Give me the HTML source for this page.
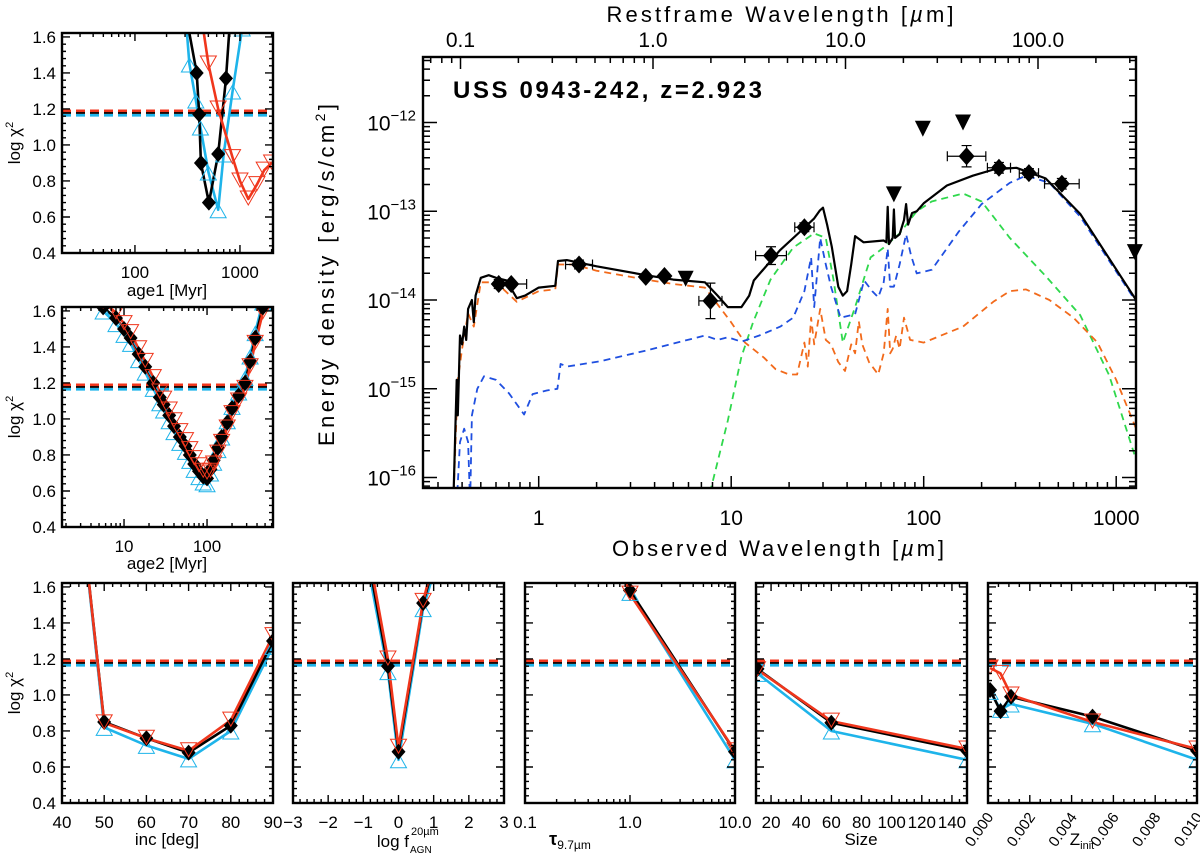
<!DOCTYPE html>
<html><head><meta charset="utf-8"><title>SED fit USS 0943-242</title>
<style>
html,body{margin:0;padding:0;background:#fff;}
svg{display:block;font-family:"Liberation Sans",sans-serif;}
</style></head>
<body>
<svg id="chart" width="1200" height="856" viewBox="0 0 1200 856" xmlns="http://www.w3.org/2000/svg">
<rect x="0" y="0" width="1200" height="856" fill="#fff"/>
</svg>
<script>
// ===== Main SED data (observed wavelength in micron, log10 energy density) =====
const photWl   = [0.62,0.72,1.62,3.6,4.5,7.8,16.1,24,167,246,352,522];
const photLogF = [-13.82,-13.82,-13.6,-13.74,-13.73,-14.01,-13.5,-13.18,-12.38,-12.51,-12.57,-12.69];
const photXErr = [0,0.08,0.07,0,0,0.06,0.08,0.05,0.1,0.06,0.05,0.09];
const photYErr = [0.05,0.03,0.05,0.03,0.03,0.2,0.1,0.05,0.12,0.06,0.05,0.06];
const limWl    = [5.8,70,99,160,1250];
const limLogF  = [-13.76,-12.81,-12.07,-12.0,-13.46];

const totalWl  = [0.36,0.375,0.38,0.39,0.40,0.41,0.42,0.43,0.45,0.46,0.47,0.50,0.55,0.6,0.68,0.77,0.85,1.0,1.22,1.26,1.4,2.0,3.6,5.0,7.3,8.5,9.6,11.3,12.4,13.1,17.9,23.6,27,28.9,30,31.5,33.3,36,38,40,42,44,48.7,62,64,65,66,69,70,71,75,79,81,83,87,92,100,132,180,231,303,430,650,1268];
const totalLogF= [-16.3,-14.9,-15.3,-14.4,-14.5,-14.3,-14.45,-14.1,-14.0,-14.25,-13.95,-13.75,-13.72,-13.75,-13.78,-13.98,-13.95,-13.86,-13.84,-13.56,-13.55,-13.62,-13.72,-13.77,-13.8,-13.95,-14.08,-14.08,-13.95,-13.78,-13.44,-13.2,-13.08,-12.99,-12.96,-13.15,-13.4,-13.85,-13.95,-13.9,-13.6,-13.28,-13.35,-13.33,-13.35,-12.95,-13.37,-13.3,-12.98,-13.3,-13.26,-13.1,-12.92,-13.15,-13.02,-13.0,-12.91,-12.71,-12.6,-12.53,-12.51,-12.63,-13.03,-14.0];

const starWl   = [0.36,0.38,0.40,0.43,0.46,0.5,0.6,0.77,1.0,1.22,1.26,1.5,2.0,3.6,5.0,7.3,8.5,9.9,11.8,14.8,17,20,22,24,25,26,27,29,31,33,36,39,42,44,46,48,52,58,62,65,67,69,72,75,79,85,100,160,230,280,340,450,600,800,1000,1268];
const starLogF = [-16.3,-14.9,-14.55,-14.15,-14.3,-13.8,-13.8,-14.02,-13.9,-13.88,-13.6,-13.6,-13.67,-13.77,-13.82,-13.86,-14.05,-14.24,-14.48,-14.65,-14.78,-14.84,-14.84,-14.48,-14.75,-14.2,-14.5,-14.1,-14.45,-14.5,-14.7,-14.8,-14.5,-14.6,-14.24,-14.5,-14.7,-14.84,-14.6,-14.1,-14.6,-14.55,-14.4,-14.55,-14.2,-14.45,-14.48,-14.3,-14.02,-13.9,-13.88,-14.0,-14.2,-14.48,-14.9,-15.45];

const agnWl    = [0.375,0.39,0.41,0.43,0.44,0.45,0.48,0.52,0.6,0.7,0.84,0.93,1.1,1.25,1.3,1.4,2.1,3.6,7.3,8.5,9.6,11.3,14,18,21,24,26,27,29,31,33,37,44,49,54,58,62,65,67,70,75,81,86,92,110,152,200,280,340,450,650,1268];
const agnLogF  = [-16.3,-15.6,-15.45,-15.6,-16.3,-15.3,-15.0,-14.86,-14.9,-15.05,-15.29,-15.06,-15.02,-15.0,-14.72,-14.75,-14.69,-14.57,-14.4,-14.45,-14.42,-14.47,-14.4,-14.3,-14.2,-13.9,-13.52,-14.08,-13.3,-13.6,-13.85,-14.2,-14.16,-13.78,-13.9,-13.97,-13.8,-13.42,-13.85,-13.85,-13.6,-13.26,-13.5,-13.7,-13.66,-13.23,-12.92,-12.68,-12.6,-12.68,-13.06,-14.02];

const dustWl   = [7.5,9.6,11.3,13,16,21,27,31,34,38,44,53,62,75,92,110,160,200,280,430,650,920,1268];
const dustLogF = [-16.3,-15.36,-14.64,-14.25,-13.77,-13.41,-13.25,-13.3,-13.77,-14.48,-14.08,-13.52,-13.41,-13.25,-13.0,-12.89,-12.8,-12.89,-13.3,-13.73,-14.17,-14.85,-15.8];

const redshift = 2.923;
const yDecades = [-12,-13,-14,-15,-16];
const obsTickLabels = ["1","10","100","1000"];
const obsTickValues = [1,10,100,1000];
const restTickLabels = ["0.1","1.0","10.0","100.0"];
const restTickValues = [0.1,1,10,100];

// ===== chi2 panels data (log chi2) =====
const chiLevelBlack = 1.18, chiLevelRed = 1.19, chiLevelBlue = 1.165;

const age1Black = [300,387,409,425,506,620,736,850];
const age1BlackChi = [1.75,1.40,1.17,0.90,0.68,0.95,1.37,1.9];
const age1Blue = [300,330,380,420,500,620,700,850,1050];
const age1BlueChi = [1.75,1.45,1.25,1.1,0.85,0.64,0.95,1.3,1.65];
const age1Red = [420,500,620,850,1000,1200,1450,1700,2000];
const age1RedChi = [1.75,1.45,1.2,0.93,0.8,0.70,0.78,0.86,0.9];

const age2Grid = [5.6,8,10,12,15,18,22.5,27,30,35,40,47,55,62,70,80,90,100,110,120,135,150,175,200,240,286,330,380,470];
const age2BlackChi = [1.62,1.56,1.5,1.45,1.36,1.29,1.2,1.12,1.08,1.02,0.96,0.9,0.85,0.8,0.75,0.71,0.68,0.67,0.72,0.77,0.84,0.9,0.98,1.06,1.13,1.2,1.32,1.45,1.62];
const age2BlueChi  = [1.6,1.53,1.47,1.42,1.33,1.26,1.17,1.09,1.05,0.99,0.93,0.87,0.82,0.77,0.72,0.68,0.65,0.64,0.7,0.76,0.83,0.9,0.99,1.07,1.15,1.23,1.35,1.48,1.65];
const age2RedChi   = [1.65,1.59,1.53,1.48,1.39,1.32,1.23,1.15,1.11,1.05,0.99,0.93,0.88,0.83,0.78,0.74,0.71,0.7,0.71,0.75,0.81,0.87,0.95,1.03,1.1,1.17,1.29,1.42,1.59];

const incVals = [40,50,60,70,80,90];
const incBlackChi = [3.0,0.85,0.76,0.68,0.83,1.30];
const incRedChi   = [3.0,0.845,0.76,0.69,0.86,1.33];
const incBlueChi  = [3.0,0.82,0.72,0.645,0.80,1.27];

const fagnVals = [-1,-0.3,0,0.7,1];
const fagnBlackChi = [1.91,1.16,0.685,1.51,1.72];
const fagnRedChi   = [1.95,1.2,0.71,1.52,1.75];
const fagnBlueChi  = [1.85,1.13,0.64,1.48,1.68];

const tauVals = [0.3,1.0,10];
const tauBlackChi = [2.5,1.58,0.685];
const tauRedChi   = [2.5,1.56,0.69];
const tauBlueChi  = [2.5,1.57,0.64];

const sizeVals = [11,60,150];
const sizeBlackChi = [1.145,0.846,0.69];
const sizeRedChi   = [1.14,0.855,0.70];
const sizeBlueChi  = [1.12,0.80,0.64];

const zVals = [0.0001,0.0006,0.0011,0.005,0.0100];
const zBlackChi = [1.028,0.91,0.99,0.88,0.69];
const zRedChi   = [1.15,1.12,1.00,0.85,0.70];
const zBlueChi  = [1.02,0.92,0.95,0.84,0.64];

// ===== drawing helpers =====
const NS = 'http://www.w3.org/2000/svg';
const svg = document.getElementById('chart');
function el(tag, attrs, parent){
  const e = document.createElementNS(NS, tag);
  for (const k in attrs) e.setAttribute(k, attrs[k]);
  (parent || svg).appendChild(e);
  return e;
}
function txt(parent, x, y, s, size, anchor, extra){
  const t = el('text', Object.assign({x:x, y:y, 'font-size':size, 'text-anchor':anchor||'middle', fill:'#000'}, extra||{}), parent);
  t.textContent = s;
  return t;
}
const RED = '#f0361c', BLUE = '#1eb4ea', BLK = '#000';

// ----- Main SED -----
const MX0 = 423, MX1 = 1136, MY0 = 57, MY1 = 488;
function mx(l){ return 538.7 + 192.5*Math.log10(l); }
function my(lf){ return 122.5 - 88.75*(lf + 12); }

const mainG = el('g', {});


const defs = el('defs', {});
const cpMain = el('clipPath', {id:'clip-main'}, defs);
el('rect', {x:MX0, y:MY0, width:MX1-MX0, height:MY1-MY0}, cpMain);

function curve(parent, xs, ys, fx, fy, color, w, dash, name){
  const d = xs.map((v,i)=> (i? 'L':'M') + fx(v).toFixed(1) + ',' + fy(ys[i]).toFixed(1)).join(' ');
  const p = el('path', {d:d, fill:'none', stroke:color, 'stroke-width':w, 'stroke-linejoin':'round'}, parent);
  if (dash) p.setAttribute('stroke-dasharray', dash);
  
  
  return p;
}
const mainPlot = el('g', {'clip-path':'url(#clip-main)'}, mainG);


curve(mainPlot, dustWl, dustLogF, mx, my, '#2fd84c', 1.8, '7,5', 'starburst-dust-curve');
curve(mainPlot, starWl, starLogF, mx, my, '#f26a1b', 1.8, '7,5', 'stellar-curve');
curve(mainPlot, agnWl, agnLogF, mx, my, '#1f4fe0', 1.8, '7,5', 'agn-torus-curve');
curve(mainPlot, totalWl, totalLogF, mx, my, '#000', 2.2, null, 'total-model-curve');

// photometry
photWl.forEach((l,i)=>{
  const g = el('g', {}, mainPlot);
  
  
  const x = mx(l), y = my(photLogF[i]);
  if (photYErr[i] > 0){
    const y1 = my(photLogF[i]+photYErr[i]), y2 = my(photLogF[i]-photYErr[i]);
    el('path', {d:`M${x},${y1} V${y2} M${x-5},${y1} H${x+5} M${x-5},${y2} H${x+5}`, stroke:'#000', 'stroke-width':1.2, fill:'none'}, g);
  }
  if (photXErr[i] > 0){
    const x1 = mx(l*Math.pow(10,-photXErr[i])), x2 = mx(l*Math.pow(10,photXErr[i]));
    el('path', {d:`M${x1},${y} H${x2} M${x1},${y-5} V${y+5} M${x2},${y-5} V${y+5}`, stroke:'#000', 'stroke-width':1.2, fill:'none'}, g);
  }
  el('path', {d:`M${x},${y-9} L${x+8},${y} L${x},${y+9} L${x-8},${y} Z`, fill:'#000'}, g);
});
limWl.forEach((l,i)=>{
  const x = Math.min(mx(l), MX1-1), y = my(limLogF[i]);
  const t = el('path', {d:`M${x-8},${y-8} L${x+8},${y-8} L${x},${y+8} Z`, fill:'#000'}, mainG);
  
  
});

// main axes box and ticks
const frame = el('rect', {x:MX0, y:MY0, width:MX1-MX0, height:MY1-MY0, fill:'none', stroke:'#000', 'stroke-width':2.4}, mainG);


let tk = '';
for (let dec=-1; dec<=3; dec++){
  for (let m=1; m<=9; m++){
    const v = m*Math.pow(10,dec), x = mx(v);
    if (x < MX0 || x > MX1) continue;
    const L = m===1 ? 12 : 6;
    tk += `M${x.toFixed(1)},${MY1} v${-L} `;
  }
}
for (let dec=-2; dec<=2; dec++){
  for (let m=1; m<=9; m++){
    const v = m*Math.pow(10,dec), x = mx(v*(1+redshift));
    if (x < MX0 || x > MX1) continue;
    const L = m===1 ? 12 : 6;
    tk += `M${x.toFixed(1)},${MY0} v${L} `;
  }
}
for (let dec=-17; dec<=-11; dec++){
  for (let m=1; m<=9; m++){
    const y = my(dec + Math.log10(m));
    if (y < MY0 || y > MY1) continue;
    const L = m===1 ? 14 : 7;
    tk += `M${MX0},${y.toFixed(1)} h${L} M${MX1},${y.toFixed(1)} h${-L} `;
  }
}
const mainTicks = el('path', {d:tk, stroke:'#000', 'stroke-width':1.5, fill:'none'}, mainG);



obsTickValues.forEach((v,i)=>{
  const t = txt(mainG, mx(v), 525, obsTickLabels[i], 21);
  
  
});
restTickValues.forEach((v,i)=>{
  const t = txt(mainG, mx(v*(1+redshift)), 47, restTickLabels[i], 21);
  
  
});
yDecades.forEach(d=>{
  const t = el('text', {x:416, y:my(d)+8, 'font-size':21, 'text-anchor':'end'}, mainG);
  
  
  const a = el('tspan', {}, t); a.textContent = '10';
  const b = el('tspan', {dy:-10, 'font-size':15}, t); b.textContent = '\u2212' + (-d);
});

// ----- small chi2 panels -----
const PY0 = 0.4, PY1 = 1.622;
let clipN = 0;
function panel(name, x0, y0, w, h, xmin, xmax, isLog){
  const P = {x0,y0,w,h};
  P.sx = v => x0 + ((isLog?Math.log10(v):v) - xmin)/(xmax-xmin)*w;
  P.sy = v => y0 + h - (v-PY0)/(PY1-PY0)*h;
  const g = el('g', {});
  
  
  P.g = g;
  const id = 'clip-p' + (clipN++);
  const cp = el('clipPath', {id:id}, defs);
  el('rect', {x:x0, y:y0, width:w, height:h}, cp);
  P.inner = el('g', {'clip-path':`url(#${id})`}, g);
  [[chiLevelBlue,BLUE],[chiLevelBlack,BLK],[chiLevelRed,RED]].forEach(([lv,c])=>{
    const l = el('line', {x1:x0, x2:x0+w, y1:P.sy(lv), y2:P.sy(lv), stroke:c, 'stroke-width':2.6, 'stroke-dasharray':'9,5'}, P.inner);
    
    
  });
  return P;
}
function finishPanel(P, xMajor, xMinor, xLabels, showY, xLabelRotate){
  const {x0,y0,w,h,g} = P;
  const fr = el('rect', {x:x0, y:y0, width:w, height:h, fill:'none', stroke:'#000', 'stroke-width':2.4}, g);
  
  
  let d = '';
  xMajor.forEach(v=>{ const x=P.sx(v); d += `M${x},${y0+h} v-8 M${x},${y0} v8 `; });
  xMinor.forEach(v=>{ const x=P.sx(v); if (x>x0 && x<x0+w) d += `M${x},${y0+h} v-4 M${x},${y0} v4 `; });
  for (let i=0;i<=30;i++){ const v = 0.4 + i*0.04; const y=P.sy(v); if (y<y0) continue;
    const L = (i%5===0)?8:4; d += `M${x0},${y} h${L} M${x0+w},${y} h${-L} `; }
  const tp = el('path', {d:d, stroke:'#000', 'stroke-width':1.4, fill:'none'}, g);
  
  
  xMajor.forEach((v,i)=>{
    if (!xLabels[i]) return;
    let t;
    if (xLabelRotate){
      t = txt(g, P.sx(v)+6, y0+h+14, xLabels[i], 15, 'end', {transform:`rotate(-55 ${P.sx(v)+6} ${y0+h+14})`});
    } else {
      t = txt(g, P.sx(v), y0+h+25, xLabels[i], 17);
    }
    
    
  });
  if (showY){
    ['0.4','0.6','0.8','1.0','1.2','1.4','1.6'].forEach(s=>{
      const t = txt(g, x0-6, P.sy(parseFloat(s))+6, s, 17, 'end');
      
      
    });
    const yc = y0 + h/2;
    const t = el('text', {x:20, y:yc, 'font-size':17, 'text-anchor':'middle', transform:`rotate(-90 20 ${yc})`}, g);
    
    
    const a = el('tspan', {}, t); a.textContent = 'log \u03C7';
    const b = el('tspan', {dy:-7, 'font-size':11}, t); b.textContent = '2';
  }
}
function series(P, xs, ys, color, kind, name){
  const d = xs.map((v,i)=> (i?'L':'M') + P.sx(v).toFixed(1) + ',' + P.sy(ys[i]).toFixed(1)).join(' ');
  const p = el('path', {d:d, fill:'none', stroke:color, 'stroke-width':2.6, 'stroke-linejoin':'round'}, P.inner);
  
  
  return () => {
    xs.forEach((v,i)=>{
      const x = P.sx(v), y = P.sy(ys[i]);
      let m;
      if (kind==='diamond') m = el('path', {d:`M${x},${y-8} L${x+7},${y} L${x},${y+8} L${x-7},${y} Z`, fill:'#000'}, P.inner);
      else if (kind==='up') m = el('path', {d:`M${x},${y-6} L${x+8},${y+8} L${x-8},${y+8} Z`, fill:'none', stroke:color, 'stroke-width':1}, P.inner);
      else m = el('path', {d:`M${x-8},${y-8} L${x+8},${y-8} L${x},${y+6} Z`, fill:'none', stroke:color, 'stroke-width':1}, P.inner);
      
      
    });
  };
}
function drawAll(P, xs, b, r, bl, xsB, xsR, xsBl){
  const mk = [];
  mk.push(series(P, xsBl||xs, bl, BLUE, 'up', 'blue-series'));
  mk.push(series(P, xsB||xs, b, BLK, 'diamond', 'black-series'));
  mk.push(series(P, xsR||xs, r, RED, 'down', 'red-series'));
  mk.forEach(f=>f());
}
function logMinor(a, b){ const out=[]; for (let d=a; d<=b; d++) for (let m=2;m<=9;m++) out.push(m*Math.pow(10,d)); return out; }
function linMinor(a, b, s){ const out=[]; for (let v=a; v<=b+1e-9; v+=s) out.push(v); return out; }

// age1 panel
const P1 = panel('age1-chi2-panel', 62, 33, 211, 220, Math.log10(20.2), Math.log10(2063), true);
drawAll(P1, null, age1BlackChi, age1RedChi, age1BlueChi, age1Black, age1Red, age1Blue);
finishPanel(P1, [100,1000], logMinor(1,3), ['100','1000'], true);
txt(P1.g, 167, 296, 'age1  [Myr]', 17);

// age2 panel
const P2 = panel('age2-chi2-panel', 62, 307, 211, 220, Math.log10(1.79), Math.log10(623), true);
drawAll(P2, age2Grid, age2BlackChi, age2RedChi, age2BlueChi);
finishPanel(P2, [10,100], logMinor(0,2), ['10','100'], true);
txt(P2.g, 167, 569, 'age2  [Myr]', 17);

// inc
const P3 = panel('inclination-chi2-panel', 62, 583, 211, 220, 40, 90, false);
drawAll(P3, incVals, incBlackChi, incRedChi, incBlueChi);
finishPanel(P3, [40,50,60,70,80,90], linMinor(40,90,2), ['40','50','60','70','80','90'], true);
txt(P3.g, 167, 845, 'inc  [deg]', 17);

// f_agn
const P4 = panel('fagn-chi2-panel', 293, 583, 211, 220, -3, 3, false);
drawAll(P4, fagnVals, fagnBlackChi, fagnRedChi, fagnBlueChi);
finishPanel(P4, [-3,-2,-1,0,1,2,3], linMinor(-3,3,0.2), ['\u22123','\u22122','\u22121','0','1','2','3'], false);
(function(){
  const t = el('text', {x:409, y:847, 'font-size':17, 'text-anchor':'end'}, P4.g);
  
  
  t.textContent = 'log  f';
  const s1 = el('text', {x:411, y:835, 'font-size':11, 'text-anchor':'start'}, P4.g);
  
  
  s1.textContent = '20\u00B5m';
  const s2 = el('text', {x:410, y:853, 'font-size':10, 'text-anchor':'start'}, P4.g);
  
  
  s2.textContent = 'AGN';
})();

// tau
const P5 = panel('tau-chi2-panel', 525, 583, 210, 220, -1, 1, true);
drawAll(P5, tauVals, tauBlackChi, tauRedChi, tauBlueChi);
finishPanel(P5, [0.1,1,10], logMinor(-1,0), ['0.1','1.0','10.0'], false);
(function(){
  const t = el('text', {x:570, y:845, 'font-size':18, 'text-anchor':'middle', 'font-weight':'bold'}, P5.g);
  
  
  const a = el('tspan', {}, t); a.textContent = '\u03C4';
  const b = el('tspan', {dy:4, 'font-size':12, 'font-weight':'normal'}, t); b.textContent = '9.7\u00B5m';
})();

// size
const P6 = panel('size-chi2-panel', 756, 583, 211, 220, 10, 150, false);
drawAll(P6, sizeVals, sizeBlackChi, sizeRedChi, sizeBlueChi);
finishPanel(P6, [20,40,60,80,100,120,140], linMinor(10,150,5), ['20','40','60','80','100','120','140'], false);
txt(P6.g, 861, 845, 'Size', 17);

// metallicity
const P7 = panel('metallicity-chi2-panel', 988, 583, 209, 220, 0, 0.010, false);
drawAll(P7, zVals, zBlackChi, zRedChi, zBlueChi);
finishPanel(P7, [0,0.002,0.004,0.006,0.008,0.010], linMinor(0,0.01,0.0005), ['0.000','0.002','0.004','0.006','0.008','0.010'], false, true);
(function(){
  const t = el('text', {x:1082, y:845, 'font-size':17, 'text-anchor':'middle'}, P7.g);
  
  
  const a = el('tspan', {}, t); a.textContent = 'Z';
  const b = el('tspan', {dy:4, 'font-size':11}, t); b.textContent = 'init';
})();
</script>
<svg style="position:absolute;left:0;top:0;pointer-events:none" width="1200" height="856">
  <text x="780" y="22" font-family="Liberation Sans, sans-serif" font-size="22" text-anchor="middle" textLength="347">Restframe Wavelength [<tspan font-style="italic">µ</tspan>m]</text>
  <text x="778" y="556" font-family="Liberation Sans, sans-serif" font-size="22" text-anchor="middle" textLength="332">Observed Wavelength [<tspan font-style="italic">µ</tspan>m]</text>
  <text x="0" y="0" transform="translate(334 275) rotate(-90)" font-family="Liberation Sans, sans-serif" font-size="22" text-anchor="middle" textLength="342">Energy density [erg/s/cm<tspan dy="-9" font-size="14">2</tspan><tspan dy="9">]</tspan></text>
  <text x="453" y="98" font-family="Liberation Sans, sans-serif" font-size="24" font-weight="bold" textLength="309">USS 0943-242, z=2.923</text>
</svg>
</body></html>
